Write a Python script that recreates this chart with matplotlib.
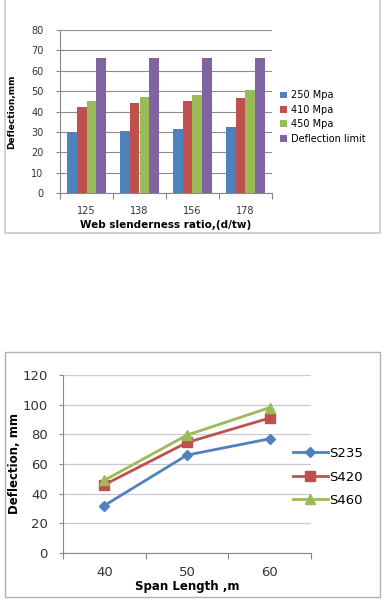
import numpy as np
import matplotlib.pyplot as plt
from matplotlib.patches import Rectangle

# top chart data
ratios = ['125', '138', '156', '178']
d250 = [29.8, 30.6, 31.5, 32.3]
d410 = [42.3, 44.2, 45.0, 46.8]
d450 = [45.0, 47.3, 48.3, 50.5]
d_limit = [66.5, 66.5, 66.5, 66.5]
bar_names = ['250 Mpa', '410 Mpa', '450 Mpa', 'Deflection limit']

# bottom chart data
spans = ['40', '50', '60']
s235 = [32, 66, 77]
s420 = [46, 74.5, 91]
s460 = [49, 79.5, 98]
line_names = ['S235', 'S420', 'S460']

blue, red, green, purple = '#4F81BD', '#C0504D', '#9BBB59', '#8064A2'
W, H = 389, 606

fig = plt.figure(figsize=(W / 100, H / 100), dpi=100)
fig.patch.set_facecolor('white')


def px_axes(x0, y0, x1, y1):
    return fig.add_axes([x0 / W, 1 - y1 / H, (x1 - x0) / W, (y1 - y0) / H])


# outer frames
fig.patches.append(Rectangle((5 / W, 1 - 233 / H), 375 / W, 234 / H, transform=fig.transFigure,
                             fill=False, edgecolor='#c8c8c8', lw=1.2))
fig.patches.append(Rectangle((5 / W, 1 - 597 / H), 375 / W, 245 / H, transform=fig.transFigure,
                             fill=False, edgecolor='#b0b0b0', lw=1.0))

# ---- bar chart ----
ax1 = px_axes(60, 30, 272, 193)
x = np.arange(len(ratios))
bw = 0.18
for i, (vals, c, name) in enumerate(zip([d250, d410, d450, d_limit], [blue, red, green, purple], bar_names)):
    ax1.bar(x + (i - 1.5) * bw, vals, bw, color=c, label=name, zorder=3)
ax1.set_ylim(0, 80)
ax1.set_xlim(-0.5, 3.5)
ax1.set_yticks(range(0, 81, 10))
ax1.yaxis.grid(True, color='#8c8c8c', lw=0.8, zorder=0)
ax1.set_xticks(np.arange(-0.5, 4, 1))
ax1.set_xticklabels([])
ax1.set_xticks(x, minor=True)
ax1.set_xticklabels(ratios, minor=True, fontsize=7, color='#333333')
ax1.tick_params(axis='x', which='minor', length=0, pad=9)
ax1.tick_params(axis='x', which='major', length=4, direction='out', color='#888888')
ax1.tick_params(axis='y', labelsize=7, length=3, color='#888888', labelcolor='#333333', pad=9)
for s in ['top', 'right']:
    ax1.spines[s].set_visible(False)
ax1.spines['left'].set_color('#888888')
ax1.spines['bottom'].set_color('#888888')
ax1.set_xlabel('Web slenderness ratio,(d/tw)', fontsize=7.5, fontweight='bold', labelpad=3)
ax1.set_ylabel('Deflection,mm', fontsize=6.5, fontweight='bold', labelpad=11,
               family=['Liberation Sans Narrow', 'DejaVu Sans'])
ax1.legend(loc='center left', bbox_to_anchor=(276 / W, 1 - 117 / H), bbox_transform=fig.transFigure,
           frameon=False, fontsize=7, handlelength=0.7, handleheight=0.7, handletextpad=0.4,
           labelspacing=0.45, borderaxespad=0)

# ---- line chart ----
ax2 = px_axes(63, 375, 311, 553)
xp = np.arange(len(spans))
ax2.plot(xp, s235, color=blue, marker='D', ms=5, lw=2, label=line_names[0], zorder=3)
ax2.plot(xp, s420, color=red, marker='s', ms=7, lw=2, label=line_names[1], zorder=3)
ax2.plot(xp, s460, color=green, marker='^', ms=7, lw=2, label=line_names[2], zorder=3)
ax2.set_ylim(0, 120)
ax2.set_xlim(-0.5, 2.5)
ax2.set_yticks(range(0, 121, 20))
ax2.yaxis.grid(True, color='#c9c9d4', lw=0.9, zorder=0)
ax2.set_xticks(np.arange(-0.5, 3, 1))
ax2.set_xticklabels([])
ax2.set_xticks(xp, minor=True)
ax2.set_xticklabels(spans, minor=True, fontsize=9.5, color='#333333')
ax2.tick_params(axis='x', which='minor', length=0, pad=9)
ax2.tick_params(axis='x', which='major', length=4, direction='out', color='#888888')
ax2.tick_params(axis='y', labelsize=9.5, length=3, color='#888888', labelcolor='#333333', pad=8)
for s in ['top', 'right']:
    ax2.spines[s].set_visible(False)
ax2.spines['left'].set_color('#888888')
ax2.spines['bottom'].set_color('#888888')
ax2.set_xlabel('Span Length ,m', fontsize=8.5, fontweight='bold', labelpad=1)
ax2.set_ylabel('Deflection, mm', fontsize=8.5, fontweight='bold', labelpad=1)
ax2.legend(loc='center left', bbox_to_anchor=(288 / W, 1 - 477 / H), bbox_transform=fig.transFigure,
           frameon=False, fontsize=9.5, handlelength=2.6, handletextpad=0.1,
           labelspacing=0.8, borderaxespad=0)

fig.savefig('out.png', dpi=100, facecolor='white')
